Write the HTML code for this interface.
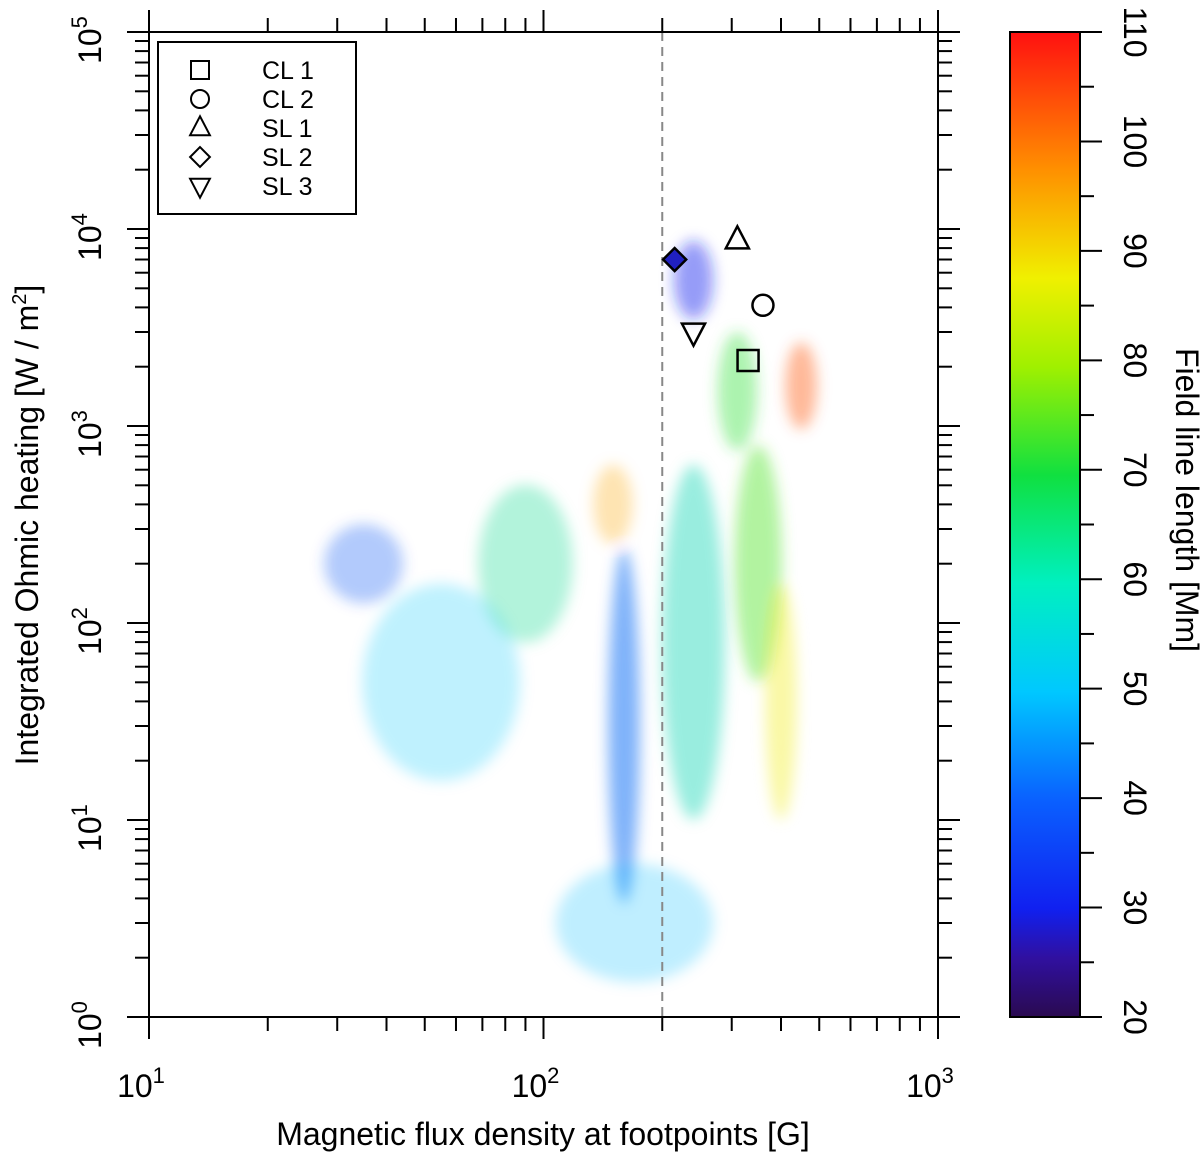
<!DOCTYPE html>
<html><head><meta charset="utf-8"><style>
body{margin:0;background:#fff}
svg{display:block;font-family:"Liberation Sans",sans-serif}
</style></head><body>
<svg id="c" width="1200" height="1153" viewBox="0 0 1200 1153">
<defs>
<filter id="bl" x="-50%" y="-50%" width="200%" height="200%"><feGaussianBlur stdDeviation="7"/></filter>
<linearGradient id="jet" x1="0" y1="1" x2="0" y2="0">
<stop offset="0" stop-color="#2a0a50"/><stop offset="0.06" stop-color="#3010a0"/>
<stop offset="0.11" stop-color="#1020f0"/><stop offset="0.22" stop-color="#0a60ff"/>
<stop offset="0.33" stop-color="#00c8ff"/><stop offset="0.44" stop-color="#00f0c0"/>
<stop offset="0.55" stop-color="#10e040"/><stop offset="0.66" stop-color="#a0f000"/>
<stop offset="0.75" stop-color="#f0f000"/><stop offset="0.86" stop-color="#ff9000"/>
<stop offset="1" stop-color="#ff1010"/></linearGradient>
</defs>
<g id="cloud" filter="url(#bl)"></g>
<g id="axes"></g>
</svg>
<script>
const clusterB=[55,160,240,350,450,240,310,170,150,90,400,35];
const clusterH=[50,30,80,200,1600,5500,1500,3,400,200,40,200];
const spreadB=[0.2,0.04,0.08,0.06,0.04,0.05,0.05,0.2,0.05,0.12,0.04,0.1];
const spreadH=[0.5,0.9,0.9,0.6,0.22,0.2,0.3,0.3,0.2,0.4,0.6,0.2];
const lengths=[50,38,58,75,104,30,72,48,95,62,88,35];
const density=[0.25,0.5,0.4,0.45,0.4,0.45,0.4,0.25,0.3,0.3,0.35,0.3];
const markerNames=["CL 1","CL 2","SL 1","SL 2","SL 3"];
const markerB=[330,360,310,215,240];
const markerH=[2150,4100,8800,7000,3000];
const xTicks=[1,2,3];
const yTicks=[0,1,2,3,4,5];
const cbTicks=[20,30,40,50,60,70,80,90,100,110];
const NS="http://www.w3.org/2000/svg";
const X0=149,X1=938,Y0=1017,Y1=32;
const px=b=>X0+(Math.log10(b)-1)*(X1-X0)/2;
const py=h=>Y0-Math.log10(h)*(Y0-Y1)/5;
function jet(v){const t=(v-20)/90;const s=[[0,[42,10,80]],[.11,[16,32,240]],[.33,[0,200,255]],[.55,[16,224,64]],[.75,[240,240,0]],[.86,[255,144,0]],[1,[255,16,16]]];
 for(let i=1;i<s.length;i++){if(t<=s[i][0]){const f=(t-s[i-1][0])/(s[i][0]-s[i-1][0]);const c=s[i][1].map((c,k)=>Math.round(s[i-1][1][k]+(c-s[i-1][1][k])*f));return 'rgb('+c.join(',')+')';}}
 return 'rgb(255,16,16)';}
function el(t,a,p){const e=document.createElementNS(NS,t);for(const k in a)e.setAttribute(k,a[k]);(p||document.getElementById('axes')).appendChild(e);return e;}
const cloud=document.getElementById('cloud');
for(let i=0;i<clusterB.length;i++){
 const cx=px(clusterB[i]),cy=py(clusterH[i]);
 const rx=spreadB[i]*(X1-X0)/2,ry=spreadH[i]*(Y0-Y1)/5;
 const e=el('ellipse',{cx:cx,cy:cy,rx:rx,ry:ry,fill:jet(lengths[i]),opacity:density[i]},cloud);
 
 
}
let d=el('line',{x1:px(200),x2:px(200),y1:Y1,y2:Y0,stroke:'#888','stroke-width':2,'stroke-dasharray':'9,6'});

let f=el('rect',{x:X0,y:Y1,width:X1-X0,height:Y0-Y1,fill:'none',stroke:'#000','stroke-width':2});

for(let dec=1;dec<3;dec++)for(let m=1;m<10;m++){const x=px(m*Math.pow(10,dec));const L=m==1?22:14;
 el('line',{x1:x,x2:x,y1:Y0,y2:Y0+L,stroke:'#000','stroke-width':2});el('line',{x1:x,x2:x,y1:Y1,y2:Y1-L,stroke:'#000','stroke-width':2});}
el('line',{x1:X1,x2:X1,y1:Y0,y2:Y0+22,stroke:'#000','stroke-width':2});el('line',{x1:X1,x2:X1,y1:Y1,y2:Y1-22,stroke:'#000','stroke-width':2});
for(let dec=0;dec<5;dec++)for(let m=1;m<10;m++){const y=py(m*Math.pow(10,dec));const L=m==1?22:14;
 el('line',{x1:X0,x2:X0-L,y1:y,y2:y,stroke:'#000','stroke-width':2});el('line',{x1:X1,x2:X1+L,y1:y,y2:y,stroke:'#000','stroke-width':2});}
el('line',{x1:X0,x2:X0-22,y1:Y1,y2:Y1,stroke:'#000','stroke-width':2});el('line',{x1:X1,x2:X1+22,y1:Y1,y2:Y1,stroke:'#000','stroke-width':2});
xTicks.forEach(p=>{const t=el('text',{x:px(Math.pow(10,p))-8,y:1097,'font-size':32,'text-anchor':'middle'});t.innerHTML='10<tspan dy="-14" font-size="22">'+p+'</tspan>';
 });
yTicks.forEach(p=>{const y=py(Math.pow(10,p));const t=el('text',{x:0,y:0,'font-size':32,'text-anchor':'middle',transform:'translate(101,'+(y+8)+') rotate(-90)'});t.innerHTML='10<tspan dy="-14" font-size="22">'+p+'</tspan>';
 });
let xt=el('text',{x:543,y:1145,'font-size':32,'text-anchor':'middle'});xt.textContent='Magnetic flux density at footpoints [G]';

let yt=el('text',{x:0,y:0,'font-size':32,'text-anchor':'middle',transform:'translate(38,525) rotate(-90)'});yt.innerHTML='Integrated Ohmic heating [W / m<tspan dy="-12" font-size="20">2</tspan><tspan dy="12">]</tspan>';

function marker(i,x,y,s,g,w){const a={fill:g?g:'none',stroke:'#000','stroke-width':w};let e;
 if(i==0)e=el('rect',Object.assign({x:x-s,y:y-s,width:2*s,height:2*s},a));
 else if(i==1)e=el('circle',Object.assign({cx:x,cy:y,r:s},a));
 else if(i==2)e=el('polygon',Object.assign({points:`${x},${y-s*1.3} ${x-s*1.1},${y+s*0.8} ${x+s*1.1},${y+s*0.8}`},a));
 else if(i==3)e=el('polygon',Object.assign({points:`${x},${y-s*1.1} ${x+s*1.1},${y} ${x},${y+s*1.1} ${x-s*1.1},${y}`},a));
 else e=el('polygon',Object.assign({points:`${x},${y+s*1.3} ${x-s*1.1},${y-s*0.8} ${x+s*1.1},${y-s*0.8}`},a));
 return e;}
for(let i=0;i<5;i++){const e=marker(i,px(markerB[i]),py(markerH[i]),10.5,i==3?'#2020c0':'none',2.5);
 }
let lg=el('rect',{x:158,y:42,width:198,height:172,fill:'#fff',stroke:'#000','stroke-width':2});

for(let i=0;i<5;i++){const y=70+i*29;const m=marker(i,200,y,9,'#fff',2);
 
 const t=el('text',{x:262,y:y+9,'font-size':25});t.textContent=markerNames[i];
 }
const CX=1010,CW=70;const cy=v=>Y0-(v-20)/90*(Y0-Y1);
let cb=el('rect',{x:CX,y:Y1,width:CW,height:Y0-Y1,fill:'url(#jet)',stroke:'#000','stroke-width':2});

for(let v=20;v<=110;v+=5){const y=cy(v);el('line',{x1:CX+CW,x2:CX+CW+(v%10==0?22:14),y1:y,y2:y,stroke:'#000','stroke-width':2});}
cbTicks.forEach(v=>{const t=el('text',{x:0,y:0,'font-size':32,'text-anchor':'middle',transform:'translate(1124,'+cy(v)+') rotate(90)'});t.textContent=v;
 });
let ct=el('text',{x:0,y:0,'font-size':32,'text-anchor':'middle',transform:'translate(1176,500) rotate(90)'});ct.textContent='Field line length [Mm]';

</script>
</body></html>
